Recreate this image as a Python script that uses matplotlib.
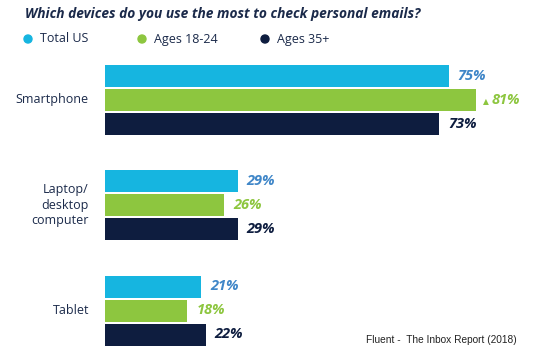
import matplotlib
matplotlib.use("Agg")
import matplotlib.pyplot as plt
import numpy as np

categories = ["Smartphone", "Laptop/\ndesktop\ncomputer", "Tablet"]
series_names = ["Total US", "Ages 18-24", "Ages 35+"]
total_us = [75, 29, 21]
ages_18_24 = [81, 26, 18]
ages_35 = [73, 29, 22]
values = [total_us, ages_18_24, ages_35]

bar_colors = ["#16b5e0", "#8dc63f", "#0e1d3f"]
label_colors = ["#3f86c8", "#8dc63f", "#0e1d3f"]
navy = "#1b2a4a"

W, H = 533, 354
fig = plt.figure(figsize=(W / 100, H / 100), dpi=100)
fig.patch.set_facecolor("white")

# axes geometry in pixels
ax_left_px = 105
x_max = 90
px_per_unit = 4.58
ax_w_px = x_max * px_per_unit
g0_px, g_step = 100.0, 105.25
ylo, yhi = -0.4, 2.4
top_px = g0_px + ylo * g_step
bot_px = g0_px + yhi * g_step
ax = fig.add_axes([ax_left_px / W, 1 - bot_px / H, ax_w_px / W, (bot_px - top_px) / H])
ax.set_xlim(0, x_max)
ax.set_ylim(yhi, ylo)
ax.axis("off")

offset = 24 / g_step
bh = 22 / g_step
font = "Open Sans"

for s, vals in enumerate(values):
    for i, v in enumerate(vals):
        y = i + (s - 1) * offset
        ax.barh(y, v, height=bh, color=bar_colors[s], linewidth=0)
        txt = f"{v}%"
        xpos = v + 9 / px_per_unit
        if s == 1 and i == 0:
            ax.text(v + 7 / px_per_unit, y + 0.01, "\u25B2", color=label_colors[s], fontsize=5.5,
                    va="center", ha="left", family="DejaVu Sans")
            xpos = v + 16 / px_per_unit
        ax.text(xpos, y, txt, color=label_colors[s], fontsize=10.5, fontweight="bold",
                fontstyle="italic", va="center", ha="left", family=font)

for i, c in enumerate(categories):
    ax.text(-16 / px_per_unit, i, c, ha="right", va="center", fontsize=9,
            color=navy, family=font, linespacing=1.25)

# title
fig.text(25 / W, 1 - 14 / H, "Which devices do you use the most to check personal emails?",
         fontsize=9.9, fontweight="bold", fontstyle="italic", color=navy,
         family=font, ha="left", va="center")

# legend
leg_x = [28, 142, 265]
for k, name in enumerate(series_names):
    fig.patches.append(matplotlib.patches.Ellipse((leg_x[k] / W, 1 - 39 / H), 8 / W, 8 / H,
                                                  transform=fig.transFigure, color=bar_colors[k]))
    fig.text((leg_x[k] + 12) / W, 1 - 39 / H, name, fontsize=9, color=navy, family=font,
             ha="left", va="center")

fig.text(517 / W, 1 - 340 / H, "Fluent -  The Inbox Report (2018)", fontsize=7.3,
         color="#222222", family="Liberation Sans", ha="right", va="center")

fig.savefig("out.png", dpi=100)
